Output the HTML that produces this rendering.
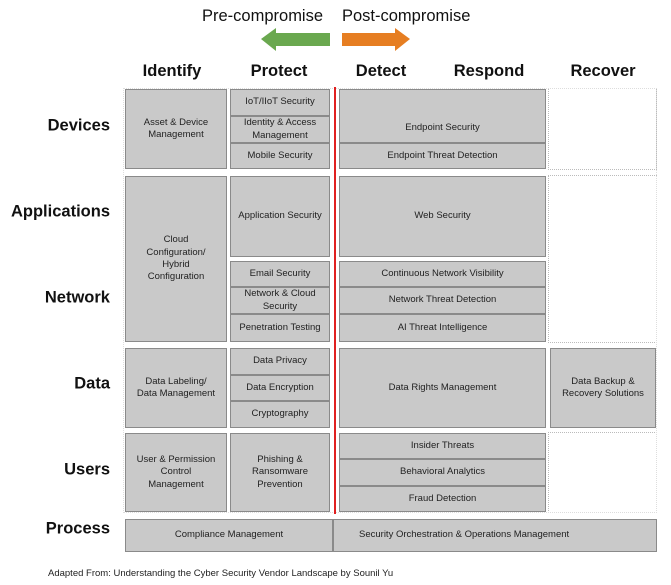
<!DOCTYPE html>
<html><head><meta charset="utf-8"><style>
*{margin:0;padding:0;box-sizing:border-box}
body{width:671px;height:585px;background:#fff;position:relative;overflow:hidden;font-family:"Liberation Sans",sans-serif}
.b{position:absolute;background:#c9c9c9;border:1px solid #8a8a8a;display:flex;align-items:center;justify-content:center;text-align:center;font-size:9.5px;line-height:1.3;color:#222;padding:0 3px}
.h{position:absolute;font-weight:bold;font-size:16.5px;color:#111;top:62px;transform:translateX(-50%)}
.r{position:absolute;font-weight:bold;font-size:16.5px;color:#111;right:561px;transform:translateY(-50%)}
.d{position:absolute;border:1px dotted #bbb}
.t{position:absolute;font-size:16.5px;color:#111;top:7px}
</style></head><body>
<div class="t" style="left:202px">Pre-compromise</div>
<div class="t" style="left:342px">Post-compromise</div>
<svg style="position:absolute;left:0;top:0" width="671" height="60">
<polygon points="261,39 276,28 276,33 330,33 330,46 276,46 276,51" fill="#6aa84f"/>
<polygon points="410,39 395,28 395,33 342,33 342,46 395,46 395,51" fill="#e67e22"/>
</svg>
<div class="h" style="left:172px">Identify</div>
<div class="h" style="left:279px">Protect</div>
<div class="h" style="left:381px">Detect</div>
<div class="h" style="left:489px">Respond</div>
<div class="h" style="left:603px">Recover</div>

<div class="r" style="top:126px">Devices</div>
<div class="r" style="top:212px">Applications</div>
<div class="r" style="top:298px">Network</div>
<div class="r" style="top:384px">Data</div>
<div class="r" style="top:470px">Users</div>
<div class="r" style="top:529px">Process</div>

<div class="d" style="left:548px;top:88px;width:109px;height:82px"></div>
<div class="d" style="left:548px;top:175px;width:109px;height:168px"></div>
<div class="d" style="left:548px;top:432px;width:109px;height:81px"></div>
<div class="d" style="left:123px;top:88px;width:534px;height:425px;border-color:#ddd"></div>

<div class="b" style="left:125px;top:89px;width:102px;height:80px">Asset &amp; Device<br>Management</div>
<div class="b" style="left:230px;top:89px;width:100px;height:27px">IoT/IIoT Security</div>
<div class="b" style="left:230px;top:116px;width:100px;height:27px">Identity &amp; Access<br>Management</div>
<div class="b" style="left:230px;top:143px;width:100px;height:26px">Mobile Security</div>
<div class="b" style="left:339px;top:89px;width:207px;height:54px;padding-top:24px">Endpoint Security</div>
<div class="b" style="left:339px;top:143px;width:207px;height:26px">Endpoint Threat Detection</div>

<div class="b" style="left:125px;top:176px;width:102px;height:166px">Cloud<br>Configuration/<br>Hybrid<br>Configuration</div>
<div class="b" style="left:230px;top:176px;width:100px;height:81px">Application Security</div>
<div class="b" style="left:230px;top:261px;width:100px;height:26px">Email Security</div>
<div class="b" style="left:230px;top:287px;width:100px;height:27px">Network &amp; Cloud<br>Security</div>
<div class="b" style="left:230px;top:314px;width:100px;height:28px">Penetration Testing</div>
<div class="b" style="left:339px;top:176px;width:207px;height:81px">Web Security</div>
<div class="b" style="left:339px;top:261px;width:207px;height:26px">Continuous Network Visibility</div>
<div class="b" style="left:339px;top:287px;width:207px;height:27px">Network Threat Detection</div>
<div class="b" style="left:339px;top:314px;width:207px;height:28px">AI Threat Intelligence</div>

<div class="b" style="left:125px;top:348px;width:102px;height:80px">Data Labeling/<br>Data Management</div>
<div class="b" style="left:230px;top:348px;width:100px;height:27px">Data Privacy</div>
<div class="b" style="left:230px;top:375px;width:100px;height:26px">Data Encryption</div>
<div class="b" style="left:230px;top:401px;width:100px;height:27px">Cryptography</div>
<div class="b" style="left:339px;top:348px;width:207px;height:80px">Data Rights Management</div>
<div class="b" style="left:550px;top:348px;width:106px;height:80px">Data Backup &amp;<br>Recovery Solutions</div>

<div class="b" style="left:125px;top:433px;width:102px;height:79px">User &amp; Permission<br>Control<br>Management</div>
<div class="b" style="left:230px;top:433px;width:100px;height:79px">Phishing &amp;<br>Ransomware<br>Prevention</div>
<div class="b" style="left:339px;top:433px;width:207px;height:26px">Insider Threats</div>
<div class="b" style="left:339px;top:459px;width:207px;height:27px">Behavioral Analytics</div>
<div class="b" style="left:339px;top:486px;width:207px;height:26px">Fraud Detection</div>

<div class="b" style="left:125px;top:519px;width:208px;height:33px">Compliance Management</div>
<div class="b" style="left:333px;top:519px;width:324px;height:33px;justify-content:flex-start;padding-left:25px">Security Orchestration &amp; Operations Management</div>

<div style="position:absolute;left:334px;top:87px;width:2px;height:427px;background:#e02020"></div>

<div style="position:absolute;left:48px;top:568px;font-size:9.5px;color:#222">Adapted From: Understanding the Cyber Security Vendor Landscape by Sounil Yu</div>
</body></html>
